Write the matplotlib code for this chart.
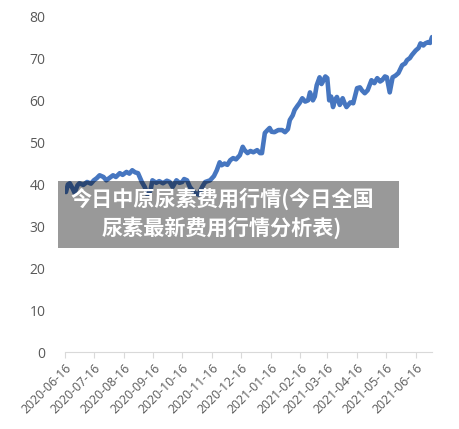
import matplotlib
matplotlib.use("Agg")
import matplotlib.pyplot as plt
import matplotlib.dates as mdates
import pandas as pd

plt.rcParams['font.family'] = ['Open Sans', 'DejaVu Sans']

# values
dates = ["2020-06-17", "2020-06-19", "2020-06-21", "2020-06-24", "2020-06-26", "2020-06-29",
         "2020-07-01", "2020-07-05", "2020-07-09", "2020-07-13", "2020-07-16", "2020-07-19",
         "2020-07-22", "2020-07-26", "2020-07-29", "2020-08-02", "2020-08-05", "2020-08-08",
         "2020-08-12", "2020-08-15", "2020-08-19", "2020-08-22", "2020-08-25", "2020-08-28",
         "2020-08-31", "2020-09-04", "2020-09-07", "2020-09-10", "2020-09-13", "2020-09-15",
         "2020-09-19", "2020-09-22", "2020-09-26", "2020-09-30", "2020-10-03", "2020-10-06",
         "2020-10-10", "2020-10-13", "2020-10-16", "2020-10-18", "2020-10-21", "2020-10-24",
         "2020-10-29", "2020-11-02", "2020-11-06", "2020-11-09", "2020-11-14", "2020-11-18",
         "2020-11-21", "2020-11-24", "2020-11-26", "2020-11-29", "2020-12-02", "2020-12-05",
         "2020-12-08", "2020-12-11", "2020-12-15", "2020-12-18", "2020-12-20", "2020-12-23",
         "2020-12-26", "2020-12-29", "2021-01-02", "2021-01-05", "2021-01-07", "2021-01-10",
         "2021-01-12", "2021-01-15", "2021-01-17", "2021-01-20", "2021-01-24", "2021-01-28",
         "2021-01-31", "2021-02-03", "2021-02-05", "2021-02-08", "2021-02-10", "2021-02-13",
         "2021-02-15", "2021-02-18", "2021-02-21", "2021-02-24", "2021-02-26", "2021-03-01",
         "2021-03-03", "2021-03-05", "2021-03-08", "2021-03-10", "2021-03-11", "2021-03-14",
         "2021-03-16", "2021-03-18", "2021-03-20", "2021-03-22", "2021-03-24", "2021-03-26",
         "2021-03-29", "2021-04-01", "2021-04-03", "2021-04-05", "2021-04-09", "2021-04-12",
         "2021-04-16", "2021-04-19", "2021-04-21", "2021-04-24", "2021-04-27", "2021-05-01",
         "2021-05-04", "2021-05-07", "2021-05-10", "2021-05-12", "2021-05-15", "2021-05-17",
         "2021-05-20", "2021-05-23", "2021-05-26", "2021-05-29", "2021-06-02", "2021-06-05",
         "2021-06-07", "2021-06-10", "2021-06-12", "2021-06-16", "2021-06-19", "2021-06-21",
         "2021-06-24", "2021-06-26", "2021-06-29", "2021-07-01", "2021-07-03"]
prices = [38.2, 40.0, 40.3, 39.0, 38.0, 39.8,
          40.3, 39.9, 40.6, 40.2, 41.0, 41.5,
          42.2, 41.8, 41.0, 41.7, 42.2, 41.8,
          42.7, 42.3, 43.0, 42.6, 43.4, 42.9,
          42.7, 40.6, 39.4, 37.5, 38.6, 41.0,
          40.4, 40.8, 40.3, 40.9, 40.6, 39.4,
          41.0, 40.4, 40.6, 41.3, 41.0, 39.4,
          38.0, 37.6, 39.5, 40.6, 41.0, 42.0,
          43.4, 45.3, 44.6, 45.0, 44.7, 45.8,
          46.3, 46.0, 47.0, 49.0, 48.2, 47.5,
          48.0, 47.7, 48.2, 47.5, 47.5, 52.3,
          52.8, 53.5, 52.6, 52.5, 53.0, 53.0,
          52.5, 53.2, 55.4, 56.5, 57.8, 58.8,
          59.4, 60.6, 59.8, 60.1, 62.0, 60.1,
          61.0, 63.7, 65.6, 64.0, 64.4, 65.8,
          65.4, 60.1, 61.0, 58.5, 60.2, 60.9,
          59.0, 60.6, 59.4, 58.5, 59.6, 59.4,
          63.0, 63.2, 62.5, 61.8, 62.5, 64.9,
          64.2, 65.4, 64.6, 64.9, 65.8, 65.6,
          62.0, 65.6, 66.0, 66.6, 68.5, 68.9,
          69.7, 70.2, 70.9, 72.0, 72.6, 73.7,
          73.2, 73.7, 74.0, 73.8, 75.2]
tick_dates = ["2020-06-16", "2020-07-16", "2020-08-16", "2020-09-16", "2020-10-16",
              "2020-11-16", "2020-12-16", "2021-01-16", "2021-02-16", "2021-03-16",
              "2021-04-16", "2021-05-16", "2021-06-16"]
y_ticks = [0, 10, 20, 30, 40, 50, 60, 70, 80]
title = "今日中原尿素费用行情(今日全国\n尿素最新费用行情分析表)"

x = pd.to_datetime(dates)
ticks = pd.to_datetime(tick_dates)

fig = plt.figure(figsize=(4.59, 4.29), dpi=100)
ax = fig.add_axes([65 / 459, 77 / 429, 367 / 459, 335 / 429])

ax.plot(x, prices, color="#4676c0", lw=3.3, solid_joinstyle="round", solid_capstyle="round")

ax.set_xlim(ticks[0], pd.Timestamp("2021-07-03"))
ax.set_ylim(0, 80)
ax.set_yticks(y_ticks)
ax.set_xticks(ticks)
ax.xaxis.set_major_formatter(mdates.DateFormatter("%Y-%m-%d"))
plt.setp(ax.get_xticklabels(), rotation=45, ha="right", rotation_mode="anchor")

for s in ["top", "right", "left"]:
    ax.spines[s].set_visible(False)
ax.spines["bottom"].set_color("#d9d9d9")
ax.tick_params(axis="y", length=0, pad=14, labelsize=10, labelcolor="#595959")
ax.tick_params(axis="x", length=4, color="#d9d9d9", pad=3, labelsize=8.8, labelcolor="#595959")

# grey overlay box with headline text
fig.patches.append(plt.Rectangle((58 / 459, 1 - 248 / 429), 341 / 459, 67 / 429,
                                 transform=fig.transFigure, facecolor="black",
                                 alpha=0.4, edgecolor="none", zorder=5))
fig.text(222 / 459, 1 - 213 / 429, title, ha="center", va="center", color="white",
         fontsize=15.2, fontweight="bold", linespacing=1.35, zorder=6,
         family=["Noto Sans CJK SC", "DejaVu Sans"])

fig.savefig("out.png", dpi=100)
